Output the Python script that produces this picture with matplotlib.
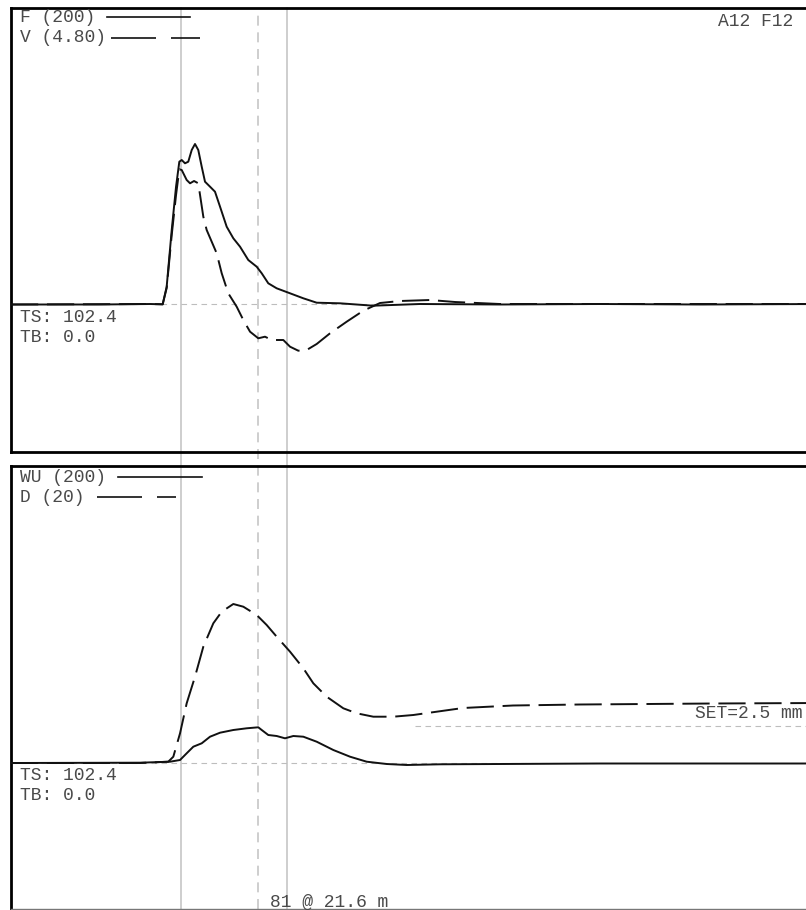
import matplotlib
matplotlib.use("Agg")
import matplotlib.pyplot as plt
from matplotlib.lines import Line2D

# ---------------- data (time in ms, amplitudes in display units) ----------------
t_F = [0, 11.1, 17.4, 18.96, 19.46, 20.09, 20.63, 21.04, 21.34, 21.75, 22.16, 22.59, 23.0,
       23.41, 23.84, 24.25, 24.88, 25.5, 26.13, 26.96, 27.79, 28.63, 29.66, 30.71, 31.34,
       32.16, 33.21, 34.88, 36.54, 38.21, 41.13, 45.25, 51.1, 61.1, 73.6, 86.1, 101.1]
F = [-0.5, -0.5, 0, -0.3, 17.3, 74, 117.3, 142.3, 144, 140.7, 142.3, 154, 160,
     154, 137.3, 122.3, 117.3, 112.3, 97.3, 77.3, 65.7, 57.3, 44, 37.3, 30.7,
     20.7, 15.7, 10.7, 5.7, 1.3, 0.7, -1.7, 0, -0.5, 0, -0.5, 0]

t_V = [0, 17.4, 18.96, 19.46, 20.09, 20.63, 21.04, 21.34, 21.96, 22.38, 22.88, 23.41, 24.04,
       24.46, 25.71, 26.34, 27.16, 28.21, 29.04, 29.88, 30.91, 31.75, 32.59, 34.04, 34.88,
       35.91, 36.96, 38.21, 39.88, 41.96, 44.04, 46.13, 48.63, 52.38, 55.5, 61.1, 73.6, 101.1]
V = [-0.5, 0, -0.3, 16, 69, 109, 134.7, 134, 124, 120.7, 123, 120.7, 87.3,
     74, 50.7, 30.7, 10.7, -2.7, -16, -27.7, -34.3, -32.7, -36, -36, -42.7,
     -46.7, -46, -40, -29.3, -17.7, -6.7, 1, 3, 4, 2, 0, 0, 0]

t_WU = [0, 16.13, 19.88, 21.13, 21.96, 22.79, 23.84, 24.88, 26.13, 27.79, 29.46, 30.91, 31.34,
        32.16, 33.21, 34.25, 35.29, 36.54, 38.21, 40.29, 42.38, 44.46, 46.96, 49.46, 53.63,
        61.1, 73.6, 101.1]
WU = [0, 0.3, 1.3, 3, 9.7, 16.3, 19.7, 26.3, 30.3, 33, 34.7, 35.7, 33,
      28, 27, 24.7, 27, 26.3, 21.3, 13, 6.3, 1.3, -1, -2, -1.3,
      -1, -0.5, -0.5]

t_D = [0, 16.13, 19.66, 20.29, 21.13, 21.96, 23.0, 24.04, 25.29, 26.34, 27.79, 29.04, 30.71,
       31.96, 33.21, 34.88, 36.54, 37.79, 39.46, 41.54, 43.21, 45.29, 47.79, 50.29, 53.21,
       56.5, 62.75, 71.1, 79.5, 87.75, 101.1]
D = [0, 0, 1.3, 6.3, 29.7, 59.7, 86.3, 116.3, 139.7, 151.3, 159, 156.3, 148,
     138, 126.3, 111.3, 94.7, 79.7, 66.3, 54.7, 49.7, 46.3, 46.3, 48, 51.3,
     55, 57.5, 58.5, 59, 59.5, 60]

set_level = 37.0
set_start = 50.5
marker_times = [21.25, 30.875, 34.5]
marker_dashed = [False, True, False]

top_labels = ["F (200)", "V (4.80)"]
bottom_labels = ["WU (200)", "D (20)"]
ts_text = "TS: 102.4"
tb_text = "TB: 0.0"
top_right_text = "A12 F12"
set_text = "SET=2.5 mm"
bottom_note = "81 @ 21.6 m"

# ---------------- figure ----------------
W, H = 806, 910
fig = plt.figure(figsize=(W / 100, H / 100), dpi=100)
fig.patch.set_facecolor("white")

ax1 = fig.add_axes([11 / W, (H - 452) / H, 809 / W, 444 / H])
ax2 = fig.add_axes([11 / W, 1 / H, 809 / W, 443 / H])


def fx(px):
    return (px - 11) / 809


MONO = ["Liberation Mono", "DejaVu Sans Mono"]
TXT = "#4a4a4a"
FS = 13
LW = 1.4
DASH = (0, (14, 4.5))

for ax in (ax1, ax2):
    ax.patch.set_visible(False)
    ax.set_xlim(0, 101.125)
    ax.set_xticks([])
    ax.set_yticks([])
    for s in ("top", "left", "bottom", "right"):
        ax.spines[s].set_linewidth(2.0)
        ax.spines[s].set_color("black")
    ax.axhline(0, color="#bdbdbd", lw=0.8, ls=(0, (5, 4)), zorder=1)
ax1.set_ylim(-148, 296)
ax2.set_ylim(-146, 297)
ax2.spines["bottom"].set_color("#777777")
ax2.spines["bottom"].set_linewidth(1.0)

ax1.plot(t_F, F, color="#111111", lw=LW, zorder=3)
ax1.plot(t_V, V, color="#111111", lw=LW, ls=DASH, zorder=3)
ax2.plot(t_WU, WU, color="#111111", lw=LW, zorder=3)
ax2.plot(t_D, D, color="#111111", lw=LW, ls=DASH, zorder=3)
ax2.plot([set_start, 101.125], [set_level, set_level], color="#bdbdbd", lw=0.8,
         ls=(0, (5, 4)), zorder=1)

# vertical marker lines across both panels
fig.canvas.draw()
inv = fig.transFigure.inverted()
y_top = inv.transform(ax1.transAxes.transform((0, 1)))[1]
y_bot = inv.transform(ax2.transAxes.transform((0, 0)))[1]
for tm, dashed in zip(marker_times, marker_dashed):
    x = inv.transform(ax1.transData.transform((tm, 0)))[0]
    fig.add_artist(Line2D([x, x], [y_bot, y_top], transform=fig.transFigure,
                          color="#c6c6c6", lw=1.2, ls=(0, (6, 4)) if dashed else "-",
                          zorder=-1))

key_spans_top = [(107, 190), (111, 200)]
key_spans_bot = [(118, 202), (97, 176)]
key_styles = ["-", (0, (27, 9))]


def series_key(ax, labels, ys, spans):
    for lab, y, (x0, x1), st in zip(labels, ys, spans, key_styles):
        ax.text(fx(20), y, lab, transform=ax.transAxes, fontsize=FS, family=MONO,
                color=TXT, va="center", ha="left")
        ax.plot([fx(x0), fx(x1)], [y, y], transform=ax.transAxes, color="#111111",
                lw=1.2, ls=st, clip_on=False)


series_key(ax1, top_labels, [(452 - 17) / 444, (452 - 38) / 444], key_spans_top)
series_key(ax2, bottom_labels, [(909 - 477) / 443, (909 - 497) / 443], key_spans_bot)

for ax, base, ts_y, tb_y in ((ax1, 452, 318, 338), (ax2, 909, 776, 796)):
    h = 444 if ax is ax1 else 443
    ax.text(fx(20), (base - ts_y) / h, ts_text, transform=ax.transAxes, fontsize=FS,
            family=MONO, color=TXT, va="center", ha="left")
    ax.text(fx(20), (base - tb_y) / h, tb_text, transform=ax.transAxes, fontsize=FS,
            family=MONO, color=TXT, va="center", ha="left")

ax1.text(fx(718), (452 - 22) / 444, top_right_text, transform=ax1.transAxes, fontsize=FS,
         family=MONO, color=TXT, va="center", ha="left")
ax2.text(fx(695), (909 - 714) / 443, set_text, transform=ax2.transAxes, fontsize=FS,
         family=MONO, color=TXT, va="center", ha="left")
ax2.text(fx(270), (909 - 902) / 443, bottom_note, transform=ax2.transAxes, fontsize=FS,
         family=MONO, color=TXT, va="center", ha="left")

fig.savefig("out.png", dpi=100, facecolor="white")
